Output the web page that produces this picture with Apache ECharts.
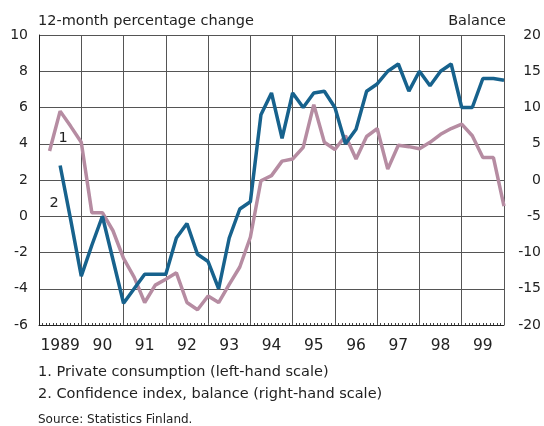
<!DOCTYPE html>
<html>
<head>
<meta charset="utf-8">
<script src="https://cdn.jsdelivr.net/npm/echarts@6/dist/echarts.min.js"></script>
<style>
  html, body { margin: 0; padding: 0; background: #fff; }
  #chart { width: 544px; height: 426px; }
</style>
</head>
<body>
<div id="chart"></div>
<script>
// year labels under the axis
const yearLabels = ['1989', '90', '91', '92', '93', '94', '95', '96', '97', '98', '99'];
const firstYear = 1989;

// private consumption, 12-month % change, quarterly from 1989 Q2 (left scale)
const consumption = [
  2.8, -0.2, -3.3,
  -1.6, 0.0, -2.4, -4.8,
  -4.0, -3.2, -3.2, -3.2,
  -1.2, -0.4, -2.1, -2.5,
  -4.0, -1.2, 0.4, 0.8,
  5.6, 6.8, 4.3, 6.8,
  6.0, 6.8, 6.9, 6.0,
  4.0, 4.8, 6.9, 7.3,
  8.0, 8.4, 6.9, 8.0,
  7.2, 8.0, 8.4, 6.0,
  6.0, 7.6, 7.6, 7.5
];
const consumptionStart = 2; // quarter index of first value

// confidence index, balance, quarterly from 1989 Q1 (right scale)
const confidence = [
  4.0, 9.5, 7.4, 5.2,
  -4.5, -4.5, -7.0, -10.8,
  -13.4, -16.9, -14.5, -13.7,
  -12.8, -16.9, -17.9, -16.0,
  -16.9, -14.4, -12.0, -7.9,
  -0.1, 0.6, 2.6, 2.9,
  4.5, 10.4, 5.2, 4.2,
  6.1, 2.9, 6.0, 7.1,
  1.5, 4.8, 4.6, 4.3,
  5.2, 6.3, 7.1, 7.7,
  6.1, 3.1, 3.1, -3.6
];
const confidenceStart = 1;

function toPoints(values, start) {
  return values.map((v, i) => [firstYear + (start + i) / 4, v]);
}

const font = '"DejaVu Sans", sans-serif';
const gridColor = '#555';
const textColor = '#222';

function label(text, x, y, size, align) {
  return {
    type: 'text',
    x: x,
    y: y,
    style: {
      text: text,
      font: size + 'px ' + font,
      fill: textColor,
      textAlign: align || 'left',
      textVerticalAlign: 'middle'
    }
  };
}

let myChart = echarts.init(document.getElementById('chart'));
myChart.setOption({
  animation: false,
  textStyle: { fontFamily: font },
  grid: { left: 39, right: 38, top: 35, bottom: 101 },
  xAxis: [
    {
      type: 'value',
      min: 1989,
      max: 2000,
      interval: 1,
      axisLine: { show: true, onZero: false, lineStyle: { color: '#222', width: 1 } },
      axisTick: { show: false, inside: true },
      minorTick: { show: true, splitNumber: 12, length: 2, lineStyle: { color: '#444' } },
      axisLabel: { show: false },
      splitLine: { show: true, lineStyle: { color: gridColor, width: 1 } }
    },
    {
      type: 'category',
      position: 'bottom',
      data: yearLabels,
      boundaryGap: true,
      axisLine: { show: false },
      axisTick: { show: false },
      axisLabel: { color: textColor, fontSize: 15.5, margin: 13, interval: 0, fontFamily: font },
      splitLine: { show: true, interval: 0, lineStyle: { color: gridColor, width: 1 } }
    }
  ],
  yAxis: [
    {
      type: 'value',
      min: -6,
      max: 10,
      interval: 2,
      axisLine: { show: true, onZero: false, lineStyle: { color: '#222', width: 1 } },
      axisTick: { show: false },
      axisLabel: { color: textColor, fontSize: 14, margin: 11, align: 'right', fontFamily: font },
      splitLine: { show: true, lineStyle: { color: gridColor, width: 1 } }
    },
    {
      type: 'value',
      min: -20,
      max: 20,
      interval: 5,
      position: 'right',
      axisLine: { show: false },
      axisTick: { show: false },
      axisLabel: { color: textColor, fontSize: 14, margin: 37, align: 'right', fontFamily: font },
      splitLine: { show: false }
    }
  ],
  series: [
    {
      name: 'Confidence index',
      type: 'line',
      yAxisIndex: 1,
      data: toPoints(confidence, confidenceStart),
      symbol: 'none',
      lineStyle: { color: '#b68ca2', width: 3.5 },
      z: 2
    },
    {
      name: 'Private consumption',
      type: 'line',
      yAxisIndex: 0,
      data: toPoints(consumption, consumptionStart),
      symbol: 'none',
      lineStyle: { color: '#17628d', width: 3.5 },
      z: 3
    }
  ],
  graphic: [
    label('12-month percentage change', 38, 21, 14.5),
    label('Balance', 506, 21, 14.5, 'right'),
    label('1', 63, 138, 14.5, 'center'),
    label('2', 54, 203, 14.5, 'center'),
    label('1. Private consumption (left-hand scale)', 38, 372, 14.5),
    label('2. Confidence index, balance (right-hand scale)', 38, 394, 14.5),
    label('Source: Statistics Finland.', 38, 420, 12)
  ]
});
</script>
</body>
</html>
